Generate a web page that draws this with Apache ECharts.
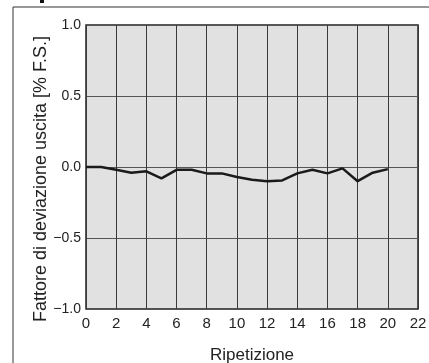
<!DOCTYPE html>
<html>
<head>
<meta charset="utf-8">
<script src="https://cdn.jsdelivr.net/npm/echarts@6/dist/echarts.min.js"></script>
<style>
html,body{margin:0;padding:0;background:#fff;}
#chart{width:429px;height:363px;}
</style>
</head>
<body>
<div id="chart"></div>
<script>
// Output deviation over repeated measurements
const repetitions = [0,1,2,3,4,5,6,7,8,9,10,11,12,13,14,15,16,17,18,19,20];
const deviation = [0.0,0.0,-0.02,-0.04,-0.03,-0.08,-0.02,-0.02,-0.045,-0.045,-0.07,-0.09,-0.1,-0.095,-0.045,-0.02,-0.045,-0.01,-0.1,-0.04,-0.015];
const xTicks = [0,2,4,6,8,10,12,14,16,18,20,22];
const yTicks = [-1.0,-0.5,0.0,0.5,1.0];

const fontFamily = '"Liberation Sans", Arial, sans-serif';
const chart = echarts.init(document.getElementById('chart'), null, {renderer:'canvas'});

chart.setOption({
  animation:false,
  backgroundColor:'#fff',
  grid:{left:86, right:11, top:25, bottom:54, outerBoundsMode:'none', show:true, backgroundColor:'#e1e1e1', borderColor:'#222', borderWidth:1.5},
  xAxis:{
    type:'value', min:xTicks[0], max:xTicks[xTicks.length-1], interval:2,
    name:'Ripetizione', nameLocation:'middle', nameGap:38, nameMoveOverlap:false,
    nameTextStyle:{fontFamily, fontSize:17, color:'#222'},
    axisLine:{show:false}, axisTick:{show:false},
    axisLabel:{fontFamily, fontSize:15, color:'#222', margin:7},
    splitLine:{show:true, lineStyle:{color:'#3a3a3a', width:1}}
  },
  yAxis:{
    type:'value', min:yTicks[0], max:yTicks[yTicks.length-1], interval:0.5,
    name:'Fattore di deviazione uscita [% F.S.]', nameLocation:'middle', nameGap:36, nameMoveOverlap:false,
    nameTextStyle:{fontFamily, fontSize:18, color:'#222', padding:[0,24,0,0]},
    axisLine:{show:false}, axisTick:{show:false},
    axisLabel:{fontFamily, fontSize:14, color:'#222', margin:5,
      formatter:v => v.toFixed(1).replace('-', '\u2212')},
    splitLine:{show:true, lineStyle:{color:'#555', width:1}}
  },
  series:[{
    type:'line', data:repetitions.map((r,i)=>[r, deviation[i]]),
    symbol:'none', lineStyle:{color:'#1a1a1a', width:2.5}
  }],
  graphic:[
    {type:'polyline', shape:{points:[[13,363],[13,7],[429,7]]}, style:{stroke:'#333', lineWidth:1, fill:null}},
    {type:'rect', shape:{x:40, y:0, width:4, height:3}, style:{fill:'#111'}}
  ]
});
</script>
</body>
</html>
